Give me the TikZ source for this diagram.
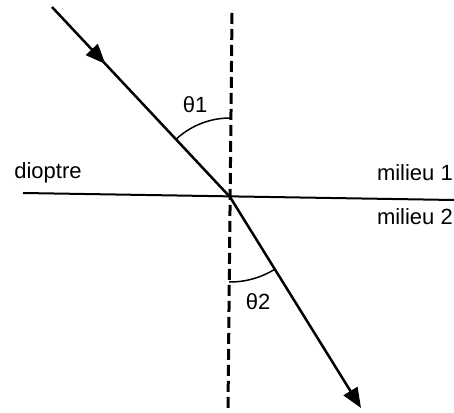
\documentclass[tikz,border=0pt]{standalone}
\usepackage{fontspec}
\setmainfont{Liberation Sans}
\usepackage{tikz}
\usetikzlibrary{arrows.meta, positioning, calc, angles, decorations.markings}

\begin{document}
\begin{tikzpicture}[x=1pt, y=1pt,
    ray/.style={line width=2.5pt},
    tip/.style={-{Triangle[length=20pt, width=16pt]}},
    normal/.style={line width=3pt, dash pattern=on 11pt off 5pt},
    label/.style={font=\fontsize{22}{26}\selectfont, inner sep=0pt}
  ]
    \useasboundingbox (0,0) rectangle (454,412);

    % Points
    \coordinate (I) at (230, 215);
    \coordinate (S) at (52, 405);
    \coordinate (E) at (361, 4);
    \coordinate (N1) at (232, 399);
    \coordinate (N2) at (228, 4);
    \coordinate (L) at (23, 219);
    \coordinate (R) at (454, 212);

    % Dioptre and normal
    \draw[line width=2pt] (L) -- (R);
    \draw[normal] (N1) -- (N2);

    % Incident ray
    \draw[ray, postaction={decorate},
      decoration={markings, mark=at position 0.3 with {\arrow{Triangle[length=20pt, width=16pt]}}}]
      (S) -- (I);

    % Refracted ray
    \draw[ray, tip] (I) -- (E);

    % Angles
    \pic[draw, line width=1.5pt, angle radius=79pt] {angle = N1--I--S};
    \pic[draw, line width=1.5pt, angle radius=85pt] {angle = N2--I--E};

    % Labels
    \node[label] (t1) at (195, 307) {θ1};
    \node[label] (t2) at (258, 110) {θ2};
    \node[label] (diop) at (48, 239) {dioptre};
    \node[label, anchor=east] (m1) at (453, 239) {milieu 1};
    \node[label, anchor=east] (m2) at (453, 195) {milieu 2};

\end{tikzpicture}
\end{document}
